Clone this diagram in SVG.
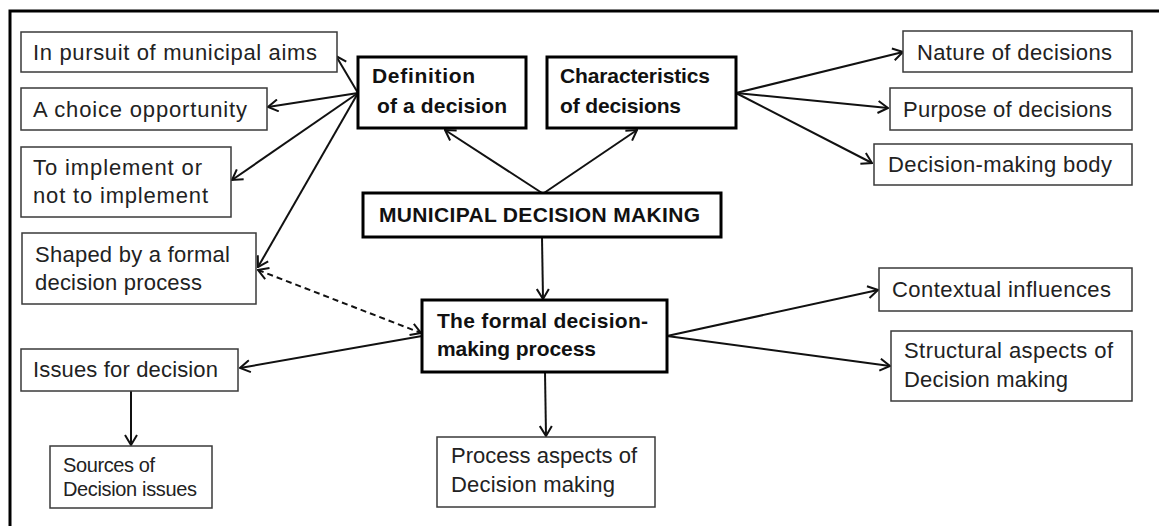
<svg xmlns="http://www.w3.org/2000/svg" width="1159" height="526" viewBox="0 0 1159 526">
  <style>
    .box { fill: #ffffff; stroke: #3a3a3a; stroke-width: 1.5; }
    .key { fill: #ffffff; stroke: #000000; stroke-width: 3; }
    .t { font-family: "Liberation Sans", Arial, sans-serif; font-size: 22px; fill: #222222; }
    .s { font-family: "Liberation Sans", Arial, sans-serif; font-size: 20px; fill: #222222; }
    .b { font-family: "Liberation Sans", Arial, sans-serif; font-size: 21px; font-weight: 700; fill: #111111; }
    .ln { stroke: #111111; stroke-width: 2; fill: none; marker-end: url(#arr); }
    .dash { stroke: #111111; stroke-width: 2; fill: none; stroke-dasharray: 6 4; marker-start: url(#arr); marker-end: url(#arr); }
  </style>
  <defs>
    <marker id="arr" viewBox="0 0 12 14" refX="11" refY="7" markerWidth="12" markerHeight="14" markerUnits="userSpaceOnUse" orient="auto-start-reverse">
      <path d="M1,1 L11,7 L1,13" fill="none" stroke="#111111" stroke-width="2" stroke-linejoin="miter"/>
    </marker>
  </defs>

  <rect width="1159" height="526" fill="#ffffff"/>
  <!-- frame: left and top rules -->
  <path d="M10,526 V11 H1159" fill="none" stroke="#000000" stroke-width="3"/>

  <g id="connectors">
    <line class="ln" x1="358" y1="93" x2="336" y2="56"/>
    <line class="ln" x1="358" y1="93" x2="268" y2="107"/>
    <line class="ln" x1="358" y1="93" x2="232" y2="180"/>
    <line class="ln" x1="358" y1="93" x2="258" y2="267"/>
    <line class="ln" x1="736" y1="93" x2="903" y2="52"/>
    <line class="ln" x1="736" y1="93" x2="888" y2="108"/>
    <line class="ln" x1="736" y1="93" x2="872" y2="163"/>
    <line class="ln" x1="542" y1="193" x2="445" y2="130"/>
    <line class="ln" x1="544" y1="193" x2="637" y2="130"/>
    <line class="ln" x1="542" y1="237" x2="543" y2="299"/>
    <line class="ln" x1="422" y1="336" x2="240" y2="368"/>
    <line class="dash" x1="258" y1="270" x2="421" y2="333"/>
    <line class="ln" x1="667" y1="336" x2="878" y2="290"/>
    <line class="ln" x1="667" y1="336" x2="890" y2="366"/>
    <line class="ln" x1="545" y1="372" x2="546" y2="436"/>
    <line class="ln" x1="131" y1="391" x2="131" y2="445"/>
  </g>

  <g id="pursuit">
    <rect class="box" x="21" y="32" width="316" height="40"/>
    <text class="t" x="33" y="60" textLength="284">In pursuit of municipal aims</text>
  </g>
  <g id="choice">
    <rect class="box" x="21" y="88" width="246" height="42"/>
    <text class="t" x="33" y="117" textLength="214">A choice opportunity</text>
  </g>
  <g id="implement">
    <rect class="box" x="21" y="147" width="210" height="70"/>
    <text class="t" x="33" y="175" textLength="169">To implement  or</text>
    <text class="t" x="33" y="203" textLength="175">not to implement</text>
  </g>
  <g id="shaped">
    <rect class="box" x="22" y="233" width="234" height="71"/>
    <text class="t" x="35" y="262" textLength="195">Shaped by a formal</text>
    <text class="t" x="35" y="290" textLength="167">decision process</text>
  </g>
  <g id="issues">
    <rect class="box" x="21" y="349" width="217" height="42"/>
    <text class="t" x="33" y="377" textLength="185">Issues for decision</text>
  </g>
  <g id="sources">
    <rect class="box" x="50" y="446" width="162" height="62"/>
    <text class="s" x="63" y="472" textLength="92">Sources of</text>
    <text class="s" x="63" y="496" textLength="134">Decision issues</text>
  </g>

  <g id="definition">
    <rect class="key" x="358" y="57" width="168" height="71"/>
    <text class="b" x="372" y="83" textLength="103">Definition</text>
    <text class="b" x="377" y="113" textLength="130">of a decision</text>
  </g>
  <g id="characteristics">
    <rect class="key" x="547" y="57" width="189" height="71"/>
    <text class="b" x="560" y="83" textLength="150">Characteristics</text>
    <text class="b" x="560" y="113" textLength="121">of decisions</text>
  </g>
  <g id="municipal">
    <rect class="key" x="363" y="193" width="358" height="44"/>
    <text class="b" x="379" y="222" textLength="321">MUNICIPAL DECISION MAKING</text>
  </g>

  <g id="nature">
    <rect class="box" x="903" y="31" width="229" height="41"/>
    <text class="t" x="917" y="60" textLength="195">Nature of decisions</text>
  </g>
  <g id="purpose">
    <rect class="box" x="890" y="88" width="242" height="42"/>
    <text class="t" x="903" y="117" textLength="209">Purpose of decisions</text>
  </g>
  <g id="body">
    <rect class="box" x="874" y="144" width="258" height="41"/>
    <text class="t" x="888" y="172" textLength="224">Decision-making  body</text>
  </g>

  <g id="formal">
    <rect class="key" x="422" y="300" width="245" height="72"/>
    <text class="b" x="437" y="328" textLength="211">The formal decision-</text>
    <text class="b" x="437" y="356" textLength="159">making process</text>
  </g>
  <g id="process">
    <rect class="box" x="437" y="437" width="218" height="70"/>
    <text class="t" x="451" y="463" textLength="186">Process aspects of</text>
    <text class="t" x="451" y="492" textLength="164">Decision  making</text>
  </g>

  <g id="contextual">
    <rect class="box" x="879" y="268" width="253" height="43"/>
    <text class="t" x="892" y="297" textLength="219">Contextual influences</text>
  </g>
  <g id="structural">
    <rect class="box" x="891" y="331" width="241" height="70"/>
    <text class="t" x="904" y="358" textLength="209">Structural aspects of</text>
    <text class="t" x="904" y="387" textLength="164">Decision  making</text>
  </g>
</svg>
